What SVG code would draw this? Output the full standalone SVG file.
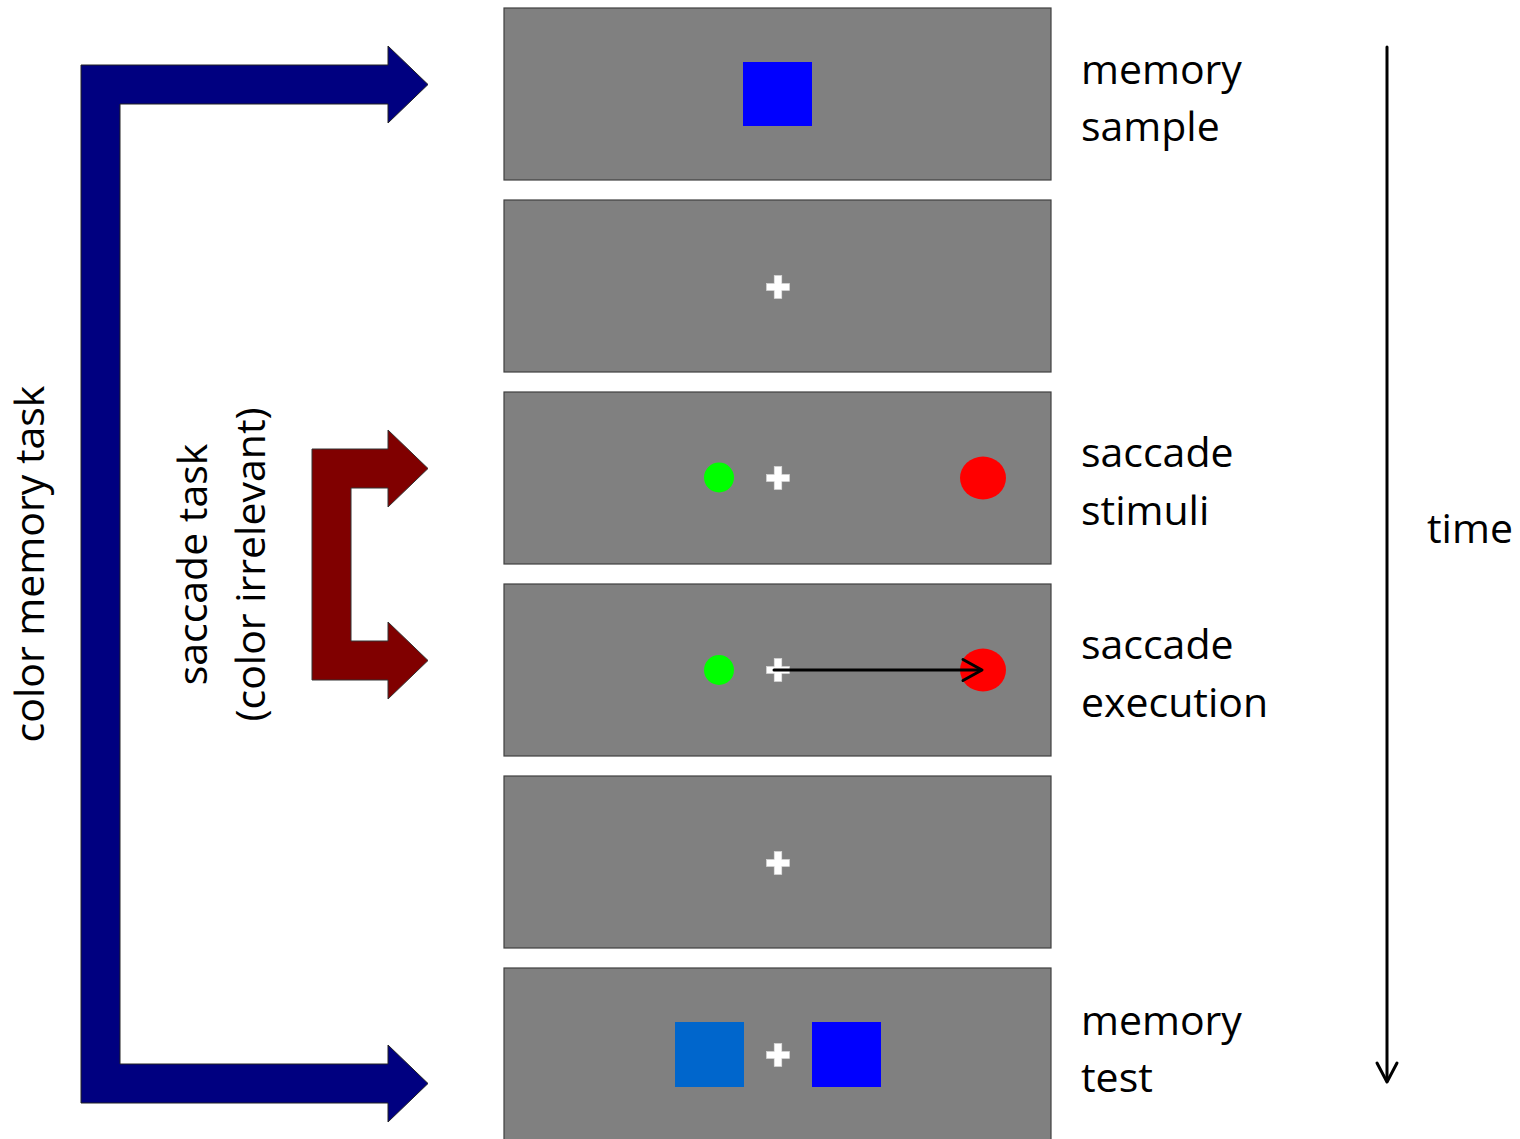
<svg xmlns="http://www.w3.org/2000/svg" width="1520" height="1139" viewBox="0 0 1520 1139">
  <style>
    .panel { fill: #808080; stroke: #404040; stroke-width: 1.2; }
    .cross { fill: #ffffff; stroke: #d8d8d8; stroke-width: 0.6; }
    .label { font-family: "Open Sans", "Liberation Sans", sans-serif; font-size: 41px; fill: #000000; }
    .flow-blue { fill: #000080; stroke: #222222; stroke-width: 1; }
    .flow-red { fill: #800000; stroke: #333333; stroke-width: 1; }
    .line { fill: none; stroke: #000000; stroke-width: 3; stroke-linecap: round; stroke-linejoin: round; }
  </style>
  <defs>
    <g id="fix">
      <rect class="cross" x="-11.5" y="-3.5" width="23" height="7"/>
      <rect class="cross" x="-3.8" y="-11.5" width="7.6" height="23"/>
      <rect x="-11" y="-3" width="22" height="6" fill="#ffffff"/>
    </g>
  </defs>

  <rect width="1520" height="1139" fill="#ffffff"/>

  <!-- task brackets -->
  <g id="connectors">
    <polygon id="color-memory-arrow" class="flow-blue" points="81,65 388,65 388,46 428,84.5 388,123 388,104 120,104 120,1064 388,1064 388,1045 428,1083.5 388,1122 388,1103 81,1103"/>
    <polygon id="saccade-arrow" class="flow-red" points="312,449 388,449 388,430 428,468.5 388,507 388,488 351,488 351,641 388,641 388,622 428,660.5 388,699 388,680 312,680"/>
    <!-- time axis -->
    <line class="line" x1="1387" y1="47" x2="1387" y2="1081"/>
    <polyline class="line" points="1377,1063 1387,1082 1397,1063"/>
  </g>

  <!-- screens -->
  <g id="screen-memory-sample">
    <rect class="panel" x="504" y="8" width="547" height="172"/>
    <rect x="743" y="62" width="69" height="64" fill="#0000ff"/>
  </g>

  <g id="screen-delay-1">
    <rect class="panel" x="504" y="200" width="547" height="172"/>
    <use href="#fix" x="778" y="287"/>
  </g>

  <g id="screen-saccade-stimuli">
    <rect class="panel" x="504" y="392" width="547" height="172"/>
    <circle cx="719" cy="477.5" r="15" fill="#00ff00"/>
    <use href="#fix" x="778" y="478"/>
    <ellipse cx="983" cy="478" rx="23" ry="21.5" fill="#ff0000"/>
  </g>

  <g id="screen-saccade-execution">
    <rect class="panel" x="504" y="584" width="547" height="172"/>
    <circle cx="719" cy="670" r="15" fill="#00ff00"/>
    <use href="#fix" x="778" y="670"/>
    <ellipse cx="983" cy="670" rx="23" ry="21.5" fill="#ff0000"/>
    <line class="line" x1="774" y1="670" x2="981" y2="670"/>
    <polyline class="line" points="963,659.5 982,670 963,680.5"/>
  </g>

  <g id="screen-delay-2">
    <rect class="panel" x="504" y="776" width="547" height="172"/>
    <use href="#fix" x="778" y="863"/>
  </g>

  <g id="screen-memory-test">
    <rect class="panel" x="504" y="968" width="547" height="180"/>
    <rect x="675" y="1022" width="69" height="65" fill="#0066cc"/>
    <use href="#fix" x="778" y="1055"/>
    <rect x="812" y="1022" width="69" height="65" fill="#0000ff"/>
  </g>

  <!-- stage labels -->
  <g id="labels">
    <text class="label" x="1081" y="84">memory</text>
    <text class="label" x="1081" y="141">sample</text>
    <text class="label" x="1081" y="467">saccade</text>
    <text class="label" x="1081" y="525">stimuli</text>
    <text class="label" x="1081" y="659">saccade</text>
    <text class="label" x="1081" y="717">execution</text>
    <text class="label" x="1081" y="1035">memory</text>
    <text class="label" x="1081" y="1092">test</text>
    <text class="label" x="1427" y="543">time</text>
    <text class="label" text-anchor="middle" transform="translate(44,564) rotate(-90)">color memory task</text>
    <text class="label" text-anchor="middle" transform="translate(207,564.5) rotate(-90)">saccade task</text>
    <text class="label" text-anchor="middle" transform="translate(265,564.5) rotate(-90)">(color irrelevant)</text>
  </g>
</svg>
